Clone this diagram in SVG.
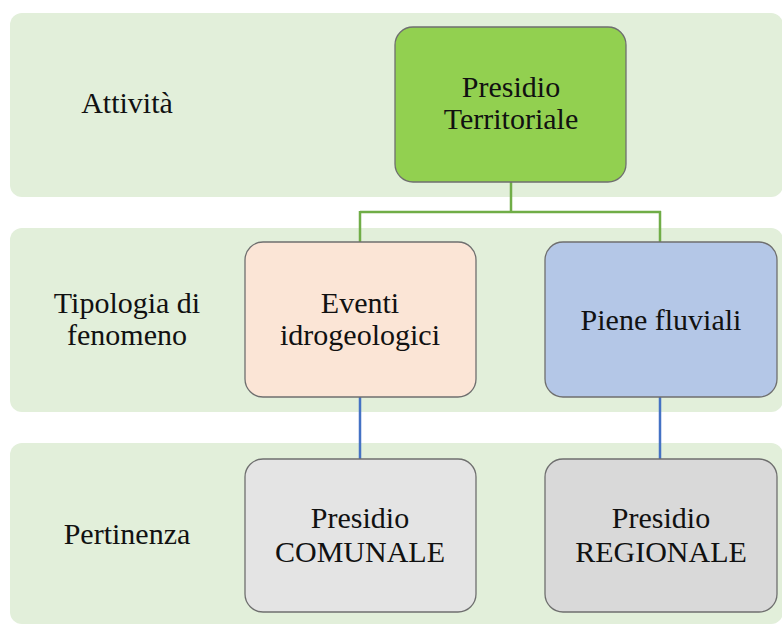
<svg xmlns="http://www.w3.org/2000/svg" width="782" height="624" viewBox="0 0 782 624">
<style>
.band{fill:#E2EFDA;}
.node{stroke:#6F6F6F;stroke-width:1.3;}
.t{font-family:'Liberation Serif','Times New Roman',Tinos,Times,'DejaVu Serif','Noto Serif',serif;font-size:30px;fill:#111;text-anchor:middle;}
.g{stroke:#70AD47;stroke-width:2.5;fill:none;}
.b{stroke:#4472C4;stroke-width:2.5;fill:none;}
</style>
<rect width="782" height="624" fill="#FFFFFF"/>
<g id="bands">
<rect class="band" x="10" y="13" width="773" height="184" rx="12"/>
<rect class="band" x="10" y="228" width="773" height="184" rx="12"/>
<rect class="band" x="10" y="443" width="773" height="181" rx="12"/>
<text class="t" x="127" y="113">Attività</text>
<text class="t" x="127" y="313">Tipologia di</text>
<text class="t" x="127" y="345">fenomeno</text>
<text class="t" x="127" y="544">Pertinenza</text>
</g>
<g id="connectors">
<path class="g" d="M511,182 V212 M360,212 H661 M360,211 V242 M660,211 V242"/>
<path class="b" d="M360,397 V459 M660,397 V459"/>
</g>
<g id="n-presidio-territoriale">
<rect class="node" x="395" y="27" width="231" height="155" rx="18" fill="#92D050"/>
<text class="t" x="511" y="97">Presidio</text>
<text class="t" x="511" y="129">Territoriale</text>
</g>
<g id="n-eventi">
<rect class="node" x="245" y="242" width="231" height="155" rx="18" fill="#FBE5D6"/>
<text class="t" x="360" y="313">Eventi</text>
<text class="t" x="360" y="345">idrogeologici</text>
</g>
<g id="n-piene">
<rect class="node" x="545" y="242" width="232" height="155" rx="18" fill="#B4C7E7"/>
<text class="t" x="661" y="330">Piene fluviali</text>
</g>
<g id="n-comunale">
<rect class="node" x="245" y="459" width="231" height="153" rx="18" fill="#E4E4E4"/>
<text class="t" x="360" y="528">Presidio</text>
<text class="t" x="360" y="562">COMUNALE</text>
</g>
<g id="n-regionale">
<rect class="node" x="545" y="459" width="232" height="153" rx="18" fill="#D9D9D9"/>
<text class="t" x="661" y="528">Presidio</text>
<text class="t" x="661" y="562">REGIONALE</text>
</g>
</svg>
